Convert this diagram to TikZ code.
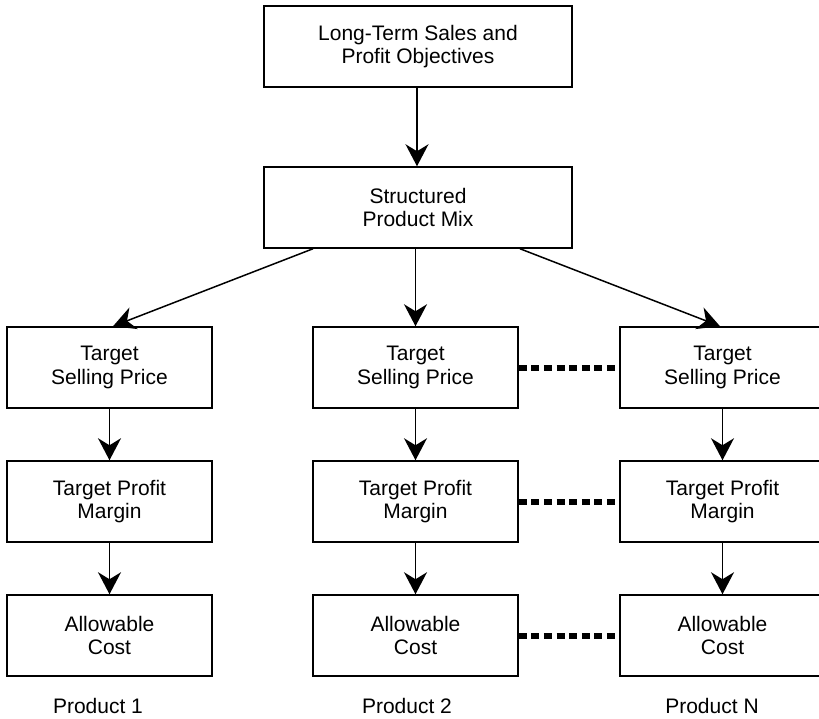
\documentclass[tikz,border=0pt]{standalone}
\usepackage{fontspec}
\setmainfont{Liberation Sans}
\usetikzlibrary{arrows.meta}

\tikzset{
  box/.style={draw, line width=1.5pt, minimum width=205pt, minimum height=81pt,
    inner sep=0pt, align=center, font=\fontsize{21}{23.5}\selectfont},
  widebox/.style={box, minimum width=308pt},
  flow/.style={line width=1.5pt, -{Stealth[length=22pt, width=23pt, inset=7pt]}},
  link/.style={line width=6pt, dash pattern=on 8pt off 4.6pt},
  caption/.style={anchor=base, inner sep=0pt, font=\fontsize{21}{23.5}\selectfont}
}

\begin{document}
\begin{tikzpicture}[x=1pt, y=-1pt]
  \useasboundingbox (0,0) rectangle (819,718);

  % top of the hierarchy
  \node[widebox] (goal) at (418,46.5) {Long-Term Sales and\\Profit Objectives};
  \node[widebox] (mix)  at (418,207.5) {Structured\\Product Mix};

  % one column per product
  \node[box] (s1) at (109.5,367.5) {Target\\Selling Price};
  \node[box] (s2) at (415.5,367.5) {Target\\Selling Price};
  \node[box] (sN) at (722.5,367.5) {Target\\Selling Price};

  \node[box] (m1) at (109.5,501.5) {Target Profit\\Margin};
  \node[box] (m2) at (415.5,501.5) {Target Profit\\Margin};
  \node[box] (mN) at (722.5,501.5) {Target Profit\\Margin};

  \node[box] (c1) at (109.5,635.5) {Allowable\\Cost};
  \node[box] (c2) at (415.5,635.5) {Allowable\\Cost};
  \node[box] (cN) at (722.5,635.5) {Allowable\\Cost};

  \node[caption] (p1) at (98,713) {Product 1};
  \node[caption] (p2) at (407,713) {Product 2};
  \node[caption] (pN) at (712,713) {Product N};

  % flow arrows
  \draw[flow] ([xshift=-1pt]goal.south) -- ([xshift=-1pt]mix.north);
  \draw[flow] ([xshift=-105pt]mix.south) -- ([xshift=3.5pt]s1.north);
  \draw[flow] (s2.north |- mix.south) -- (s2.north);
  \draw[flow] ([xshift=102pt]mix.south) -- ([xshift=-2.5pt]sN.north);

  \foreach \col in {1,2,N} {
    \draw[flow] (s\col.south) -- (m\col.north);
    \draw[flow] (m\col.south) -- (c\col.north);
  }

  % dotted links between product 2 and product N
  \draw[link] (s2.east) -- (sN.west);
  \draw[link] (m2.east) -- (mN.west);
  \draw[link] (c2.east) -- (cN.west);
\end{tikzpicture}
\end{document}
